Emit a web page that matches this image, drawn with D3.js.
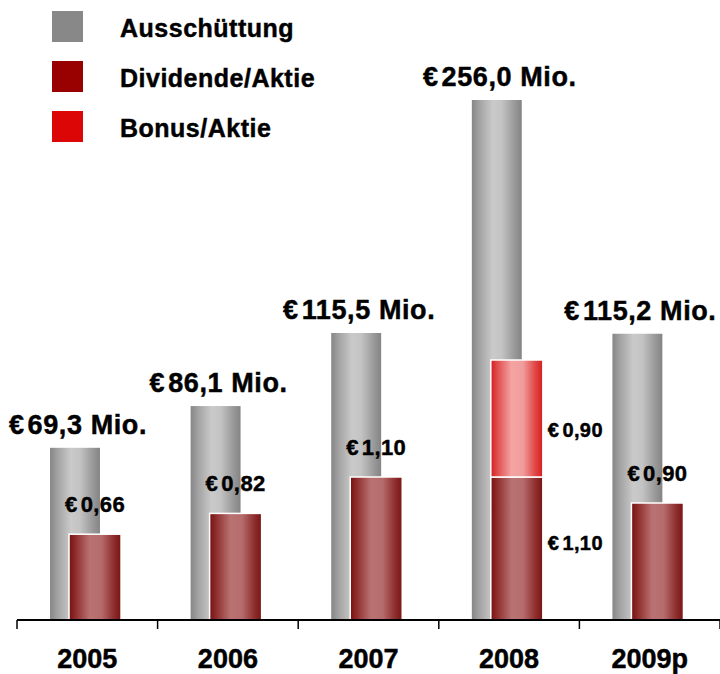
<!DOCTYPE html>
<html>
<head>
<meta charset="utf-8">
<script src="https://cdn.jsdelivr.net/npm/d3@7"></script>
<style>
  body { margin: 0; background: #fff; }
  text { font-family: "Liberation Sans", Arial, sans-serif; font-weight: bold; fill: #000; stroke: #000; stroke-width: 0.45px; }
</style>
</head>
<body>
<script>
/*--- data ---*/
let jahre = ["2005", "2006", "2007", "2008", "2009p"];
let ausschuettung = [69.3, 86.1, 115.5, 256.0, 115.2];      // Mio. EUR
let dividende = [0.66, 0.82, 1.10, 1.10, 0.90];             // EUR je Aktie
let bonus = [0, 0, 0, 0.90, 0];                             // EUR je Aktie
let ausschuettungText = ["69,3", "86,1", "115,5", "256,0", "115,2"];
let dividendeText = ["0,66", "0,82", "1,10", "1,10", "0,90"];
let bonusText = ["", "", "", "0,90", ""];

let legende = [
    {name: "Ausschüttung", farbe: "#888888"},
    {name: "Dividende/Aktie", farbe: "#990000"},
    {name: "Bonus/Aktie", farbe: "#dd0606"}
];

/*--- variables ---*/
let width = 720;
let height = 674;
let basis = 620;

/*--- scales ---*/
let X = d3.scaleBand().domain(jahre).range([17, 720]);
// original chart is not drawn to one scale, so a piecewise scale follows it
let Ymio = d3.scaleLinear().domain([0, 115.5, 256]).range([basis, 333, 100]);
let Yeur = d3.scaleLinear().domain([0, 2]).range([basis, 360]);

let bw = X.bandwidth();
let grauX = d => X(d) + bw * 0.235;
let grauB = bw * 0.355;
let rotX = d => X(d) + bw * 0.37;
let rotB = bw * 0.37;

/*--- svg ---*/
let svg = d3.select("body")
    .append("svg")
    .attr("width", width)
    .attr("height", height);

let defs = svg.append("defs");

function verlauf(id, stops) {
    let g = defs.append("linearGradient")
        .attr("id", id)
        .attr("x1", "0%").attr("x2", "100%")
        .attr("y1", "0%").attr("y2", "0%");
    g.selectAll("stop")
        .data(stops)
        .join("stop")
        .attr("offset", d => d[0])
        .attr("stop-color", d => d[1]);
}

verlauf("grau", [["0%", "#868686"], ["15%", "#a2a2a2"], ["42%", "#cacaca"], ["60%", "#c3c3c3"], ["85%", "#9a9a9a"], ["100%", "#848484"]]);
verlauf("dunkelrot", [["0%", "#781010"], ["12%", "#8e2c2c"], ["40%", "#b97272"], ["62%", "#b66c6c"], ["86%", "#8e2e2e"], ["100%", "#781414"]]);
verlauf("hellrot", [["0%", "#d41c1c"], ["12%", "#e04a4a"], ["40%", "#f4a4a4"], ["62%", "#f09c9c"], ["86%", "#e04444"], ["100%", "#d41e1e"]]);

/*--- legend ---*/
let leg = svg.append("g");
let legY = d3.scalePoint().domain(legende.map(d => d.name)).range([11, 111]);

leg.selectAll("rect")
    .data(legende)
    .join("rect")
    .attr("x", 52)
    .attr("y", d => legY(d.name))
    .attr("width", 31)
    .attr("height", 31)
    .attr("fill", d => d.farbe);

leg.selectAll("text")
    .data(legende)
    .join("text")
    .attr("x", 120)
    .attr("y", d => legY(d.name) + 26)
    .attr("font-size", 25)
    .attr("letter-spacing", 0.5)
    .text(d => d.name);

/*--- bars ---*/
let daten = jahre.map((j, i) => ({
    jahr: j, mio: ausschuettung[i], div: dividende[i], bon: bonus[i],
    mioT: ausschuettungText[i], divT: dividendeText[i], bonT: bonusText[i]
}));

let balken = svg.append("g");

// grey: Ausschüttung
balken.selectAll(".grau")
    .data(daten)
    .join("rect")
    .attr("class", "grau")
    .attr("x", d => grauX(d.jahr))
    .attr("y", d => Ymio(d.mio))
    .attr("width", grauB)
    .attr("height", d => basis - Ymio(d.mio))
    .attr("fill", "url(#grau)");

// dark red: Dividende
balken.selectAll(".div")
    .data(daten)
    .join("rect")
    .attr("class", "div")
    .attr("x", d => rotX(d.jahr))
    .attr("y", d => Yeur(d.div))
    .attr("width", rotB)
    .attr("height", d => basis - Yeur(d.div))
    .attr("fill", "url(#dunkelrot)")
    .attr("stroke", "#fff")
    .attr("stroke-width", 1.5);

// light red: Bonus, stacked
balken.selectAll(".bon")
    .data(daten.filter(d => d.bon > 0))
    .join("rect")
    .attr("class", "bon")
    .attr("x", d => rotX(d.jahr))
    .attr("y", d => Yeur(d.div + d.bon))
    .attr("width", rotB)
    .attr("height", d => Yeur(d.div) - Yeur(d.div + d.bon))
    .attr("fill", "url(#hellrot)")
    .attr("stroke", "#fff")
    .attr("stroke-width", 1.5);

/*--- labels ---*/
let mioLab = svg.append("g").selectAll("text")
    .data(daten)
    .join("text")
    .attr("x", d => grauX(d.jahr) + grauB / 2 + 3)
    .attr("y", d => Ymio(d.mio) - 14)
    .attr("text-anchor", "middle")
    .attr("font-size", 27)
    .attr("letter-spacing", 0.6);
mioLab.append("tspan").text("€");
mioLab.append("tspan").attr("dx", 3).text(d => d.mioT + " Mio.");

// Dividende labels above the bar (not for the stacked year)
let divLab = svg.append("g").selectAll("text")
    .data(daten.filter(d => d.bon === 0))
    .join("text")
    .attr("x", d => rotX(d.jahr) + rotB / 2)
    .attr("y", d => Yeur(d.div) - 22)
    .attr("text-anchor", "middle")
    .attr("font-size", 22)
    .attr("letter-spacing", 0.4);
divLab.append("tspan").text("€");
divLab.append("tspan").attr("dx", 3).text(d => d.divT);

// stacked year: labels right of the segments
let stack = daten.filter(d => d.bon > 0);
let seitLab = svg.append("g").selectAll("text")
    .data(stack.flatMap(d => [
        {jahr: d.jahr, mitte: (Yeur(0) + Yeur(d.div)) / 2 - 5, t: d.divT},
        {jahr: d.jahr, mitte: (Yeur(d.div) + Yeur(d.div + d.bon)) / 2 + 12, t: d.bonT}
    ]))
    .join("text")
    .attr("x", d => rotX(d.jahr) + rotB + 5)
    .attr("y", d => d.mitte + 6)
    .attr("font-size", 20)
    .attr("letter-spacing", 0.4);
seitLab.append("tspan").text("€");
seitLab.append("tspan").attr("dx", 3).text(d => d.t);

/*--- axis ---*/
let achse = svg.append("g");

achse.append("line")
    .attr("x1", X.range()[0]).attr("x2", X.range()[1])
    .attr("y1", basis).attr("y2", basis)
    .attr("stroke", "#000")
    .attr("stroke-width", 2);

let grenzen = jahre.map(j => X(j)).concat([X.range()[1]]);
achse.selectAll(".tick")
    .data(grenzen)
    .join("line")
    .attr("class", "tick")
    .attr("x1", d => d).attr("x2", d => d)
    .attr("y1", basis).attr("y2", basis + 9)
    .attr("stroke", "#000")
    .attr("stroke-width", 1.5);

achse.selectAll("text")
    .data(jahre)
    .join("text")
    .attr("x", d => X(d) + bw / 2)
    .attr("y", 668)
    .attr("text-anchor", "middle")
    .attr("font-size", 27)
    .text(d => d);
</script>
</body>
</html>
